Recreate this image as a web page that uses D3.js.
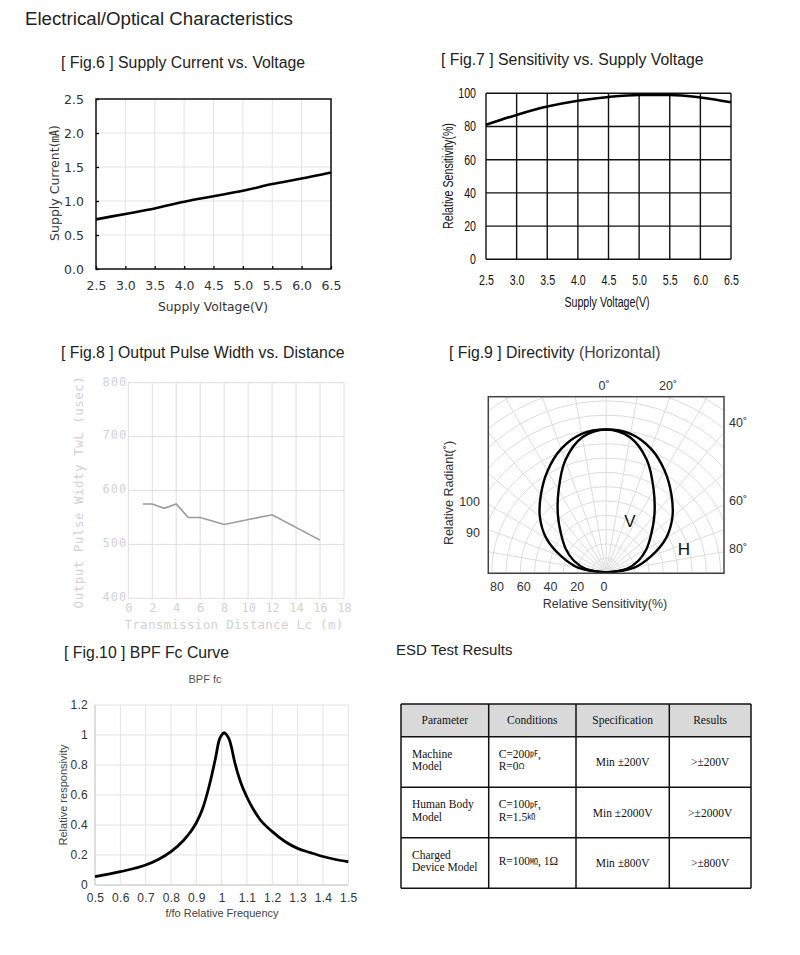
<!DOCTYPE html>
<html><head><meta charset="utf-8">
<script src="https://cdn.jsdelivr.net/npm/d3@7"></script>
<style>
body{margin:0;background:#fff}
svg{display:block}
text{font-family:'Liberation Sans',Arial,sans-serif}
</style>
</head><body>
<svg id="c" width="800" height="955"></svg>
<script>
// ---------------- DATA ----------------
// Fig.6 Supply Current vs. Voltage
const voltage6 = [2.5, 3.0, 3.5, 4.0, 4.5, 5.0, 5.5, 6.0, 6.5];
const current6 = [0.73, 0.81, 0.89, 0.99, 1.07, 1.15, 1.25, 1.33, 1.42];
const voltTicks6 = [2.5, 3.0, 3.5, 4.0, 4.5, 5.0, 5.5, 6.0, 6.5];
const currTicks6 = [0.0, 0.5, 1.0, 1.5, 2.0, 2.5];

// Fig.7 Sensitivity vs. Supply Voltage
const voltage7 = [2.5, 3.0, 3.5, 4.0, 4.5, 5.0, 5.5, 6.0, 6.5];
const sens7 = [81, 87, 92, 95.5, 97.8, 99, 99, 97.5, 94.6];
const voltTicks7 = [2.5, 3.0, 3.5, 4.0, 4.5, 5.0, 5.5, 6.0, 6.5];
const sensTicks7 = [0, 20, 40, 60, 80, 100];

// Fig.8 Output Pulse Width vs. Distance
const dist8 = [1.2, 2, 3, 4, 5, 6, 8, 12, 16];
const width8 = [575, 575, 567, 575, 550, 550, 537, 555, 508];
const distTicks8 = [0, 2, 4, 6, 8, 10, 12, 14, 16, 18];
const widthTicks8 = [400, 500, 600, 700, 800];

// Fig.9 Directivity (polar): angle in degrees, relative sensitivity %
const angles9 = [-90, -80, -70, -60, -50, -40, -30, -20, -10, 0, 10, 20, 30, 40, 50, 60, 70, 80, 90];
const respH9 = [0, 20, 33.5, 48.5, 60.5, 71, 82, 92, 98.5, 100, 98.5, 92, 82, 71, 60.5, 48.5, 33.5, 20, 0];
const respV9 = [0, 14.5, 24, 32.5, 41, 52.5, 66.5, 83.5, 96, 100, 96, 83.5, 66.5, 52.5, 41, 32.5, 24, 14.5, 0];
const angleLabels9 = [0, 20, 40, 60, 80];
const sensLabels9 = [80, 60, 40, 20, 0];
const radiantLabels9 = [100, 90];

// Fig.10 BPF fc
const freq10 = [0.5, 0.6, 0.7, 0.75, 0.8, 0.85, 0.875, 0.9, 0.925, 0.95, 0.975, 0.99, 1.0, 1.01, 1.02, 1.03, 1.04, 1.05, 1.075, 1.1, 1.125, 1.15, 1.2, 1.25, 1.3, 1.35, 1.4, 1.45, 1.5];
const resp10 = [0.056, 0.089, 0.133, 0.17, 0.222, 0.298, 0.35, 0.415, 0.51, 0.655, 0.84, 0.965, 1.0, 1.015, 1.0, 0.97, 0.91, 0.83, 0.685, 0.585, 0.505, 0.44, 0.356, 0.29, 0.244, 0.216, 0.19, 0.17, 0.155];
const freqTicks10 = [0.5, 0.6, 0.7, 0.8, 0.9, 1.0, 1.1, 1.2, 1.3, 1.4, 1.5];
const respTicks10 = [0, 0.2, 0.4, 0.6, 0.8, 1.0, 1.2];

// ESD table
const tableHeader = ['Parameter', 'Conditions', 'Specification', 'Results'];
const tableParam = [['Machine', 'Model'], ['Human Body', 'Model'], ['Charged', 'Device Model']];
const tableCond = [[['C=200', '㎊', ','], ['R=0', 'Ω', '']], [['C=100', '㎊', ','], ['R=1.5', '㏀', '']], [['R=100', '㏁', ', 1Ω']]];
const tableSpec = ['Min ±200V', 'Min ±2000V', 'Min ±800V'];
const tableResult = ['>±200V', '>±2000V', '>±800V'];

// ---------------- DRAW ----------------
const svg = d3.select('#c');
svg.append('rect').attr('width', 800).attr('height', 955).attr('fill', '#fff');

function txt(x, y, s, o = {}) {
  const t = svg.append('text').attr('x', x).attr('y', y).text(s)
    .attr('font-size', o.size || 15).attr('fill', o.fill || '#222')
    .attr('text-anchor', o.anchor || 'start');
  if (o.family) t.style('font-family', o.family);
  if (o.rotate) t.attr('transform', `rotate(-90,${x},${y})`);
  if (o.ls) t.attr('letter-spacing', o.ls);
  return t;
}
// emulate a condensed face by compressing the glyph run
function condense(sel, k) {
  sel.each(function () {
    const L = this.getComputedTextLength();
    d3.select(this).attr('textLength', L * k).attr('lengthAdjust', 'spacingAndGlyphs');
  });
}

txt(25, 25, 'Electrical/Optical Characteristics', {size: 18.7});
const FT = 15.8;
txt(61, 68, '[ Fig.6 ] Supply Current vs. Voltage', {size: FT});
txt(441, 65, '[ Fig.7 ] Sensitivity vs. Supply Voltage', {size: FT});
txt(61, 358, '[ Fig.8 ] Output Pulse Width vs. Distance', {size: FT});
const t9 = txt(449, 358, '[ Fig.9 ] Directivity ', {size: FT});
t9.append('tspan').attr('fill', '#444').text('(Horizontal)');
txt(64, 658, '[ Fig.10 ] BPF Fc Curve', {size: FT});
txt(396, 655, 'ESD Test Results', {size: 15});

function styleAxis(sel, o) {
  sel.select('.domain').remove();
  sel.selectAll('.tick line').attr('stroke', o.tick || '#000').attr('stroke-width', o.tw || 1);
  sel.selectAll('.tick text').attr('font-size', o.size).attr('fill', o.fill)
    .style('font-family', o.family || null);
  if (o.ls) sel.selectAll('.tick text').attr('letter-spacing', o.ls);
  if (o.dy) sel.selectAll('.tick text').attr('transform', `translate(0,${o.dy})`);
}

function grid(g, x, y, xt, yt, color, w) {
  g.append('g').selectAll('line').data(xt).join('line')
    .attr('x1', d => x(d)).attr('x2', d => x(d)).attr('y1', y.range()[0]).attr('y2', y.range()[1])
    .attr('stroke', color).attr('stroke-width', w);
  g.append('g').selectAll('line').data(yt).join('line')
    .attr('y1', d => y(d)).attr('y2', d => y(d)).attr('x1', x.range()[0]).attr('x2', x.range()[1])
    .attr('stroke', color).attr('stroke-width', w);
}

// ---- Fig.6 ----
{
  const g = svg.append('g');
  const x = d3.scaleLinear().domain([2.5, 6.5]).range([96, 331]);
  const y = d3.scaleLinear().domain([0, 2.5]).range([269, 99]);
  grid(g, x, y, voltTicks6, currTicks6, '#e4e4e4', 1);
  const ax = {size: 12.5, fill: '#333', family: "'DejaVu Sans',sans-serif", tw: 1.3};
  g.append('g').attr('transform', 'translate(0,269)')
    .call(d3.axisBottom(x).tickValues(voltTicks6).tickFormat(d3.format('.1f')).tickSizeInner(-3).tickSizeOuter(0).tickPadding(12))
    .call(s => styleAxis(s, ax));
  g.append('g').attr('transform', 'translate(96,0)')
    .call(d3.axisLeft(y).tickValues(currTicks6).tickFormat(d3.format('.1f')).tickSizeInner(-3).tickSizeOuter(0).tickPadding(12))
    .call(s => styleAxis(s, ax));
  g.append('rect').attr('x', 96).attr('y', 99).attr('width', 235).attr('height', 170)
    .attr('fill', 'none').attr('stroke', '#111').attr('stroke-width', 1.5);
  g.append('path').datum(voltage6.map((v, i) => [v, current6[i]]))
    .attr('d', d3.line().x(d => x(d[0])).y(d => y(d[1])).curve(d3.curveMonotoneX))
    .attr('fill', 'none').attr('stroke', '#000').attr('stroke-width', 2.6);
  txt(213, 311, 'Supply Voltage(V)', {size: 12.3, fill: '#333', anchor: 'middle', family: "'DejaVu Sans',sans-serif"});
  txt(59, 183, 'Supply Current(㎃)', {size: 12.5, fill: '#333', anchor: 'middle', rotate: true, family: "'DejaVu Sans','Noto Sans CJK KR',sans-serif"});
}

// ---- Fig.7 ----
{
  const g = svg.append('g');
  const K = 0.76;
  const x = d3.scaleLinear().domain([2.5, 6.5]).range([486, 731]);
  const y = d3.scaleLinear().domain([0, 100]).range([259.3, 93.3]);
  grid(g, x, y, voltTicks7, sensTicks7, '#111', 1.4);
  const ax = {size: 14, fill: '#111'};
  g.append('g').attr('transform', 'translate(0,259.3)')
    .call(d3.axisBottom(x).tickValues(voltTicks7).tickFormat(d3.format('.1f')).tickSize(0).tickPadding(16))
    .call(s => styleAxis(s, ax)).call(s => condense(s.selectAll('.tick text'), K));
  g.append('g').attr('transform', 'translate(486,0)')
    .call(d3.axisLeft(y).tickValues(sensTicks7).tickFormat(d3.format('d')).tickSize(0).tickPadding(10))
    .call(s => styleAxis(s, ax)).call(s => condense(s.selectAll('.tick text'), K));
  g.append('path').datum(voltage7.map((v, i) => [v, sens7[i]]))
    .attr('d', d3.line().x(d => x(d[0])).y(d => y(d[1])).curve(d3.curveMonotoneX))
    .attr('fill', 'none').attr('stroke', '#000').attr('stroke-width', 2.6);
  condense(txt(607, 307, 'Supply Voltage(V)', {size: 14, fill: '#111', anchor: 'middle'}), K);
  condense(txt(453, 176, 'Relative Sensitivity(%)', {size: 14, fill: '#111', anchor: 'middle', rotate: true}), K);
}

// ---- Fig.8 ----
{
  const g = svg.append('g');
  const mono = "'DejaVu Sans Mono',monospace";
  const x = d3.scaleLinear().domain([0, 18]).range([128.3, 344]);
  const y = d3.scaleLinear().domain([400, 800]).range([598.3, 382.7]);
  grid(g, x, y, distTicks8, widthTicks8, '#dedede', 1);
  const ax = {size: 12, fill: '#d2d2d2', family: mono};
  g.append('g').attr('transform', 'translate(0,598.3)')
    .call(d3.axisBottom(x).tickValues(distTicks8).tickFormat(d3.format('d')).tickSize(0).tickPadding(5))
    .call(s => styleAxis(s, ax));
  g.append('g').attr('transform', 'translate(128.3,0)')
    .call(d3.axisLeft(y).tickValues(widthTicks8).tickFormat(d3.format('d')).tickSize(0).tickPadding(1))
    .call(s => styleAxis(s, Object.assign({ls: 1, dy: -1.5}, ax)));
  g.append('path').datum(dist8.map((v, i) => [v, width8[i]]))
    .attr('d', d3.line().x(d => x(d[0])).y(d => y(d[1])))
    .attr('fill', 'none').attr('stroke', '#9a9a9a').attr('stroke-width', 1.6);
  txt(234, 629, 'Transmission Distance Lc (m)', {size: 12.5, fill: '#d2d2d2', anchor: 'middle', family: mono, ls: 0.3});
  txt(83, 492, 'Output Pulse Widty TwL (usec)', {size: 12.5, fill: '#d2d2d2', anchor: 'middle', family: mono, rotate: true, ls: 0.5});
}

// ---- Fig.9 ----
{
  const fx0 = 488.3, fy0 = 396.7, fx1 = 724, fy1 = 573.3;
  const ox = (fx0 + fx1) / 2, oy = fy1 - 0.8;
  const r = d3.scaleLinear().domain([0, 100]).range([0, 143]);
  svg.append('clipPath').attr('id', 'clip9').append('rect')
    .attr('x', fx0).attr('y', fy0).attr('width', fx1 - fx0).attr('height', fy1 - fy0);
  const g = svg.append('g').attr('clip-path', 'url(#clip9)');
  const gp = g.append('g').attr('transform', `translate(${ox},${oy})`);
  gp.selectAll('circle').data(d3.range(10, 160, 10)).join('circle')
    .attr('r', d => r(d)).attr('fill', 'none').attr('stroke', '#dcdcdc').attr('stroke-width', 1);
  gp.selectAll('line').data(d3.range(-90, 91, 10)).join('line')
    .attr('x1', 0).attr('y1', 0)
    .attr('x2', d => r(160) * Math.sin(d * Math.PI / 180))
    .attr('y2', d => -r(160) * Math.cos(d * Math.PI / 180))
    .attr('stroke', '#dcdcdc').attr('stroke-width', 1);
  const lr = d3.lineRadial().angle(d => d[0] * Math.PI / 180).radius(d => r(d[1])).curve(d3.curveCatmullRom.alpha(0.5));
  [respH9, respV9].forEach(arr => {
    gp.append('path').datum(angles9.map((a, i) => [a, arr[i]]))
      .attr('d', lr).attr('fill', 'none').attr('stroke', '#000').attr('stroke-width', 2.4);
  });
  svg.append('rect').attr('x', fx0).attr('y', fy0).attr('width', fx1 - fx0).attr('height', fy1 - fy0)
    .attr('fill', 'none').attr('stroke', '#444').attr('stroke-width', 1.5);
  const lab = {size: 12.5, fill: '#333'};
  // angle labels where each radial line meets the frame
  angleLabels9.forEach(a => {
    const rad = a * Math.PI / 180;
    const tTop = (oy - fy0) / Math.cos(rad);
    const xt = ox + tTop * Math.sin(rad);
    if (xt <= fx1) {
      txt(xt - 2, fy0 - 7, a + '˚', Object.assign({anchor: 'middle'}, lab));
    } else {
      const yt = oy - (fx1 - ox) / Math.tan(rad);
      txt(fx1 + 5, yt + 1 - (a === 40 ? 6 : 0), a + '˚', lab);
    }
  });
  const sx = d3.scaleLinear().domain([0, 80]).range([604, 497]);
  sensLabels9.forEach(v => txt(sx(v), 591, String(v), Object.assign({anchor: 'middle'}, lab)));
  const ry = d3.scaleLinear().domain([90, 100]).range([537, 506]);
  radiantLabels9.forEach(v => txt(480, ry(v), String(v), Object.assign({anchor: 'end'}, lab)));
  txt(605, 608, 'Relative Sensitivity(%)', Object.assign({anchor: 'middle'}, lab));
  txt(453, 493, 'Relative Radiant(˚)', Object.assign({anchor: 'middle', rotate: true}, lab));
  txt(630, 527, 'V', {size: 17, fill: '#111', anchor: 'middle'});
  txt(684, 555, 'H', {size: 17, fill: '#111', anchor: 'middle'});
}

// ---- Fig.10 ----
{
  const g = svg.append('g');
  const x = d3.scaleLinear().domain([0.5, 1.5]).range([95, 348.3]);
  const y = d3.scaleLinear().domain([0, 1.2]).range([885, 705]);
  grid(g, x, y, freqTicks10, respTicks10, '#e3e3e3', 1);
  g.append('line').attr('x1', 95).attr('x2', 95).attr('y1', 705).attr('y2', 885).attr('stroke', '#c8c8c8');
  g.append('line').attr('x1', 95).attr('x2', 348.3).attr('y1', 885).attr('y2', 885).attr('stroke', '#c8c8c8');
  const ax = {size: 12, fill: '#333', tick: '#bbb', ls: 0.3};
  g.append('g').attr('transform', 'translate(0,885)')
    .call(d3.axisBottom(x).tickValues(freqTicks10).tickFormat(d => d === 1 ? '1' : d3.format('.1f')(d)).tickSizeInner(0).tickSizeOuter(0).tickPadding(8))
    .call(s => styleAxis(s, ax));
  g.append('g').attr('transform', 'translate(95,0)')
    .call(d3.axisLeft(y).tickValues(respTicks10).tickFormat(d => d === 0 ? '0' : d === 1 ? '1' : d3.format('.1f')(d)).tickSize(0).tickPadding(7))
    .call(s => styleAxis(s, ax));
  g.append('path').datum(freq10.map((v, i) => [v, resp10[i]]))
    .attr('d', d3.line().x(d => x(d[0])).y(d => y(d[1])).curve(d3.curveMonotoneX))
    .attr('fill', 'none').attr('stroke', '#000').attr('stroke-width', 2.8);
  txt(205, 683, 'BPF fc', {size: 11, fill: '#555', anchor: 'middle'});
  txt(222, 917, 'f/fo Relative Frequency', {size: 11, fill: '#444', anchor: 'middle'});
  txt(67, 795, 'Relative responsivity', {size: 11, fill: '#444', anchor: 'middle', rotate: true});
}

// ---- ESD table ----
{
  const colX = [401, 488.7, 576, 669.3, 751];
  const rowY = [704, 736.7, 787.3, 837.7, 888.3];
  const serif = "'Liberation Serif','Times New Roman',serif";
  const cjk = "'Noto Sans CJK KR',sans-serif";
  const LH = 12.5;
  const g = svg.append('g');
  g.append('rect').attr('x', colX[0]).attr('y', rowY[0]).attr('width', colX[4] - colX[0]).attr('height', rowY[1] - rowY[0]).attr('fill', '#d9d9d9');
  const T = (x, y, s, anchor) => g.append('text').attr('x', x).attr('y', y).attr('font-size', 11.5)
    .attr('fill', '#111').attr('text-anchor', anchor || 'start').style('font-family', serif).text(s);
  tableHeader.forEach((h, i) => T((colX[i] + colX[i + 1]) / 2, (rowY[0] + rowY[1]) / 2 + 4, h, 'middle'));
  tableParam.forEach((lines, r) => {
    const cy = (rowY[r + 1] + rowY[r + 2]) / 2;
    lines.forEach((s, k) => T(colX[0] + 11, cy + 2 + (k - (lines.length - 1) / 2) * LH, s));
  });
  tableCond.forEach((lines, r) => {
    const cy = (rowY[r + 1] + rowY[r + 2]) / 2;
    lines.forEach((parts, k) => {
      const t = T(colX[1] + 10, cy + 2 + (k - (lines.length - 1) / 2) * LH, parts[0]);
      t.append('tspan').style('font-family', cjk).attr('font-size', 8).attr('dy', -1.5).text(parts[1]);
      t.append('tspan').attr('dy', 1.5).text(parts[2]);
    });
  });
  tableSpec.forEach((s, r) => T((colX[2] + colX[3]) / 2, (rowY[r + 1] + rowY[r + 2]) / 2 + 4, s, 'middle'));
  tableResult.forEach((s, r) => T((colX[3] + colX[4]) / 2, (rowY[r + 1] + rowY[r + 2]) / 2 + 4, s, 'middle'));
  g.selectAll('line.h').data(rowY).join('line').attr('x1', colX[0]).attr('x2', colX[4])
    .attr('y1', d => d).attr('y2', d => d).attr('stroke', '#111').attr('stroke-width', 1.5);
  g.selectAll('line.v').data(colX).join('line').attr('y1', rowY[0]).attr('y2', rowY[4])
    .attr('x1', d => d).attr('x2', d => d).attr('stroke', '#111').attr('stroke-width', 1.5);
}
</script>
</body></html>
